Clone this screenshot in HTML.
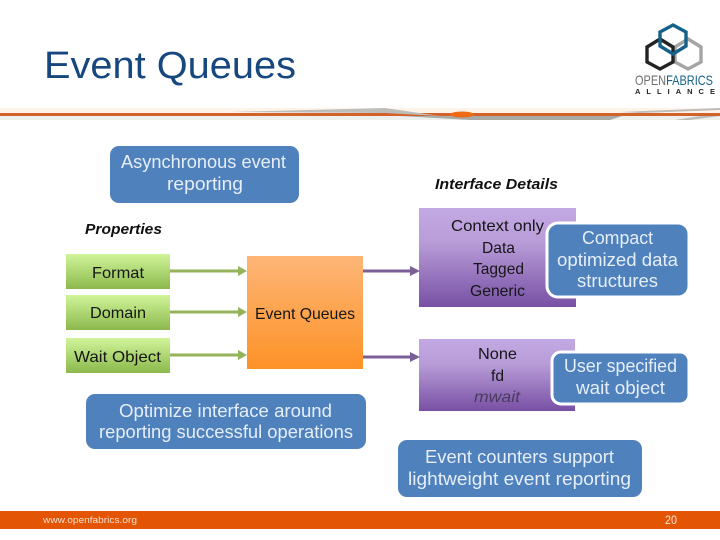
<!DOCTYPE html>
<html><head><meta charset="utf-8"><style>html,body{margin:0;padding:0;background:#fff}svg{display:block}text{font-family:"Liberation Sans","DejaVu Sans",sans-serif}</style></head>
<body>
<svg width="720" height="540" viewBox="0 0 720 540" xmlns="http://www.w3.org/2000/svg">
<defs>
<linearGradient id="g" x1="0" y1="0" x2="0" y2="1"><stop offset="0" stop-color="#d0f59a"/><stop offset="1" stop-color="#8cb84c"/></linearGradient>
<linearGradient id="o" x1="0" y1="0" x2="0" y2="1"><stop offset="0" stop-color="#fdb677"/><stop offset="1" stop-color="#fd9227"/></linearGradient>
<linearGradient id="p" x1="0" y1="0" x2="0" y2="1"><stop offset="0" stop-color="#c3a9e4"/><stop offset=".35" stop-color="#b89cd8"/><stop offset="1" stop-color="#7850a4"/></linearGradient>
</defs>
<rect x="0" y="108" width="720" height="5" fill="#fdf3e8"/>
<rect x="0" y="116" width="720" height="4" fill="#eef0ee"/>
<rect x="0" y="113" width="720" height="3" fill="#d2622a"/>
<polygon points="230,112 385,108 440,116 385,113" fill="#bdbdba"/>
<polygon points="400,116 470,120 610,120 622,116" fill="#a9a9a6"/>
<polygon points="620,112 720,108 720,110 640,113" fill="#bdbdba"/>
<polygon points="675,120 700,116 720,116 690,120" fill="#bdbdba"/>
<rect x="445" y="108" width="170" height="5" fill="#fdf3e8"/>
<ellipse cx="462" cy="114.500" rx="12" ry="3" fill="#ee6a14"/>
<text x="44" y="78" font-size="38" fill="#17477f" textLength="252" lengthAdjust="spacingAndGlyphs">Event Queues</text>

<g fill="none" stroke-width="3.4">
<polygon points="688,39 701,47 701,62 688,69 675,62 675,47" stroke="#a3a5a6"/>
<polygon points="660,39 673,47 673,62 660,69 647,62 647,47" stroke="#232325"/>
<polygon points="673,25 686,32 686,46 673,54 660,46 660,32" stroke="#15618a"/>
</g>
<text x="635" y="85" font-size="14" textLength="78" lengthAdjust="spacingAndGlyphs"><tspan fill="#6d6e70">OPEN</tspan><tspan fill="#17618c">FABRICS</tspan></text>
<text x="635" y="94" font-size="7.500" font-weight="bold" fill="#222" textLength="80">ALLIANCE</text>

<rect x="110" y="146" width="189" height="57" rx="9" fill="#4f81bd"/>
<rect x="86" y="394" width="280" height="55" rx="9" fill="#4f81bd"/>
<rect x="398" y="440" width="244" height="57" rx="9" fill="#4f81bd"/>

<rect x="66" y="254" width="104" height="35" fill="url(#g)"/>
<rect x="66" y="295" width="104" height="35" fill="url(#g)"/>
<rect x="66" y="338" width="104" height="35" fill="url(#g)"/>
<rect x="247" y="256" width="116" height="113" fill="url(#o)"/>
<rect x="419" y="208" width="157" height="99" fill="url(#p)"/>
<rect x="419" y="339" width="156" height="72" fill="url(#p)"/>

<g stroke="#94b35a" stroke-width="3"><line x1="170" y1="271" x2="240" y2="271"/><line x1="170" y1="312" x2="240" y2="312"/><line x1="170" y1="355" x2="240" y2="355"/></g>
<g fill="#94b35a"><polygon points="238,266 247,271 238,276"/><polygon points="238,307 247,312 238,317"/><polygon points="238,350 247,355 238,360"/></g>
<g stroke="#7b5f97" stroke-width="3"><line x1="363" y1="271" x2="412" y2="271"/><line x1="363" y1="357" x2="412" y2="357"/></g>
<g fill="#7b5f97"><polygon points="410,266 420,271 410,276"/><polygon points="410,352 420,357 410,362"/></g>

<rect x="547" y="223" width="142" height="74" rx="11" fill="#4f81bd" stroke="#fff" stroke-width="3"/>
<rect x="552" y="352" width="137" height="52" rx="9" fill="#4f81bd" stroke="#fff" stroke-width="3"/>

<g font-size="18" fill="#e6eef8">
<text x="121" y="168" textLength="165" lengthAdjust="spacingAndGlyphs">Asynchronous event</text>
<text x="167" y="190" textLength="76" lengthAdjust="spacingAndGlyphs">reporting</text>
<text x="119" y="417" textLength="213" lengthAdjust="spacingAndGlyphs">Optimize interface around</text>
<text x="99" y="438" textLength="254" lengthAdjust="spacingAndGlyphs">reporting successful operations</text>
<text x="425" y="463" textLength="189" lengthAdjust="spacingAndGlyphs">Event counters support</text>
<text x="408" y="485" textLength="223" lengthAdjust="spacingAndGlyphs">lightweight event reporting</text>
<text x="582" y="244" textLength="71" lengthAdjust="spacingAndGlyphs">Compact</text>
<text x="557" y="266" textLength="121" lengthAdjust="spacingAndGlyphs">optimized data</text>
<text x="577" y="287" textLength="81" lengthAdjust="spacingAndGlyphs">structures</text>
<text x="564" y="372" textLength="113" lengthAdjust="spacingAndGlyphs">User specified</text>
<text x="576" y="394" textLength="89" lengthAdjust="spacingAndGlyphs">wait object</text>
</g>
<g font-size="15" font-weight="bold" font-style="italic" fill="#111">
<text x="435" y="189" textLength="123" lengthAdjust="spacingAndGlyphs">Interface Details</text>
<text x="85" y="234" textLength="77" lengthAdjust="spacingAndGlyphs">Properties</text>
</g>
<g font-size="16" fill="#161616">
<text x="92" y="278" textLength="52" lengthAdjust="spacingAndGlyphs">Format</text>
<text x="90" y="318" textLength="56" lengthAdjust="spacingAndGlyphs">Domain</text>
<text x="74" y="362" textLength="87" lengthAdjust="spacingAndGlyphs">Wait Object</text>
<text x="255" y="319" textLength="100" lengthAdjust="spacingAndGlyphs">Event Queues</text>
<text x="451" y="231" textLength="93" lengthAdjust="spacingAndGlyphs">Context only</text>
<text x="482" y="253" textLength="33" lengthAdjust="spacingAndGlyphs">Data</text>
<text x="473" y="274" textLength="51" lengthAdjust="spacingAndGlyphs">Tagged</text>
<text x="470" y="296" textLength="55" lengthAdjust="spacingAndGlyphs">Generic</text>
<text x="478" y="359" textLength="39" lengthAdjust="spacingAndGlyphs">None</text>
<text x="491" y="381" textLength="13" lengthAdjust="spacingAndGlyphs">fd</text>
<text x="474" y="402" textLength="46" lengthAdjust="spacingAndGlyphs" font-style="italic" fill="#4a3a60">mwait</text>
</g>

<rect x="0" y="511" width="720" height="18" fill="#e35404"/>
<text x="43" y="523" font-size="9" fill="#f6dfd0" textLength="94" lengthAdjust="spacingAndGlyphs">www.openfabrics.org</text>
<text x="665" y="524" font-size="12" fill="#fbe8da" textLength="12" lengthAdjust="spacingAndGlyphs">20</text>
</svg>
</body></html>
